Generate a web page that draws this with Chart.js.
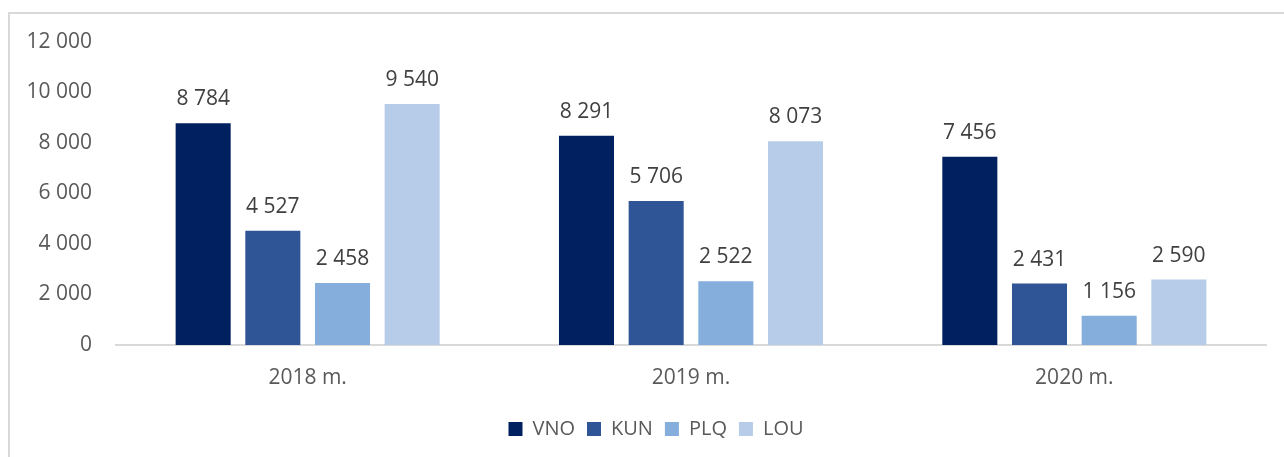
<!DOCTYPE html>
<html>
<head>
<meta charset="utf-8">
<script src="https://cdn.jsdelivr.net/npm/chart.js@4"></script>
<style>
	html, body { margin: 0; padding: 0; background: #fff; overflow: hidden; }
	#frame { position: absolute; left: 8px; top: 12px; width: 1290px; height: 460px; border-left: 2px solid #d9d9d9; border-top: 2px solid #d9d9d9; }
	#wrap { position: absolute; left: 0; top: 0; width: 1284px; height: 457px; }
</style>
</head>
<body>
<div id="frame"></div>
<div id="wrap"><canvas id="chart-airports"></canvas></div>
<script>
const YEARS = ["2018 m.", "2019 m.", "2020 m."];
const AIRPORTS = ["VNO", "KUN", "PLQ", "LOU"];
const VNO = [8784, 8291, 7456];
const KUN = [4527, 5706, 2431];
const PLQ = [2458, 2522, 1156];
const LOU = [9540, 8073, 2590];
const Y_TICKS = [0, 2000, 4000, 6000, 8000, 10000, 12000];

const COLORS = ["#002060", "#2F5597", "#85AEDC", "#B7CCE8"];
const FONT = "'Open Sans', sans-serif";

// 12000 -> "12 000"
const fmt = (v) => String(v).replace(/\B(?=(\d{3})+(?!\d))/g, " ");

// Value labels above the bars
const barLabels = {
	id: "barLabels",
	afterDatasetsDraw(chart) {
		const ctx = chart.ctx;
		ctx.save();
		ctx.font = "21px " + FONT;
		ctx.fillStyle = "#404040";
		ctx.textAlign = "center";
		ctx.textBaseline = "alphabetic";
		chart.data.datasets.forEach((ds, i) => {
			chart.getDatasetMeta(i).data.forEach((bar, j) => {
				ctx.fillText(fmt(ds.data[j]), bar.x, bar.y - 18);
			});
		});
		ctx.restore();
	},
};

// Legend in the original sits a bit right of the canvas centre
const legendShift = {
	id: "legendShift",
	afterLayout(chart) {
		if (chart.legend) {
			chart.legend.left += 23;
			chart.legend.right += 23;
		}
	},
};

const CHART_DATA = {
	labels: YEARS,
	datasets: [VNO, KUN, PLQ, LOU].map((values, i) => ({
		label: AIRPORTS[i],
		data: values,
		backgroundColor: COLORS[i],
		categoryPercentage: 0.727,
		barPercentage: 0.79,
	})),
};

const CHART_CONFIG = {
	type: "bar",
	data: CHART_DATA,
	plugins: [barLabels, legendShift],
	options: {
		responsive: true,
		maintainAspectRatio: false,
		animation: false,
		layout: {
			padding: { top: 42, left: 0, right: 18, bottom: 8 },
		},
		scales: {
			x: {
				grid: { display: false, drawTicks: false },
				border: { display: true, color: "#d9d9d9", width: 2 },
				ticks: { color: "#595959", font: { family: FONT, size: 21 }, padding: 20 },
				afterFit: (scale) => { scale.height = 62; },
			},
			y: {
				min: 0,
				max: 12000,
				grid: { display: false, drawTicks: false },
				border: { display: false },
				afterBuildTicks: (scale) => { scale.ticks = Y_TICKS.map((v) => ({ value: v })); },
				ticks: {
					color: "#595959",
					font: { family: FONT, size: 21 },
					padding: 24,
					callback: (v) => fmt(v),
				},
				afterFit: (scale) => { scale.width = 116; },
			},
		},
		plugins: {
			legend: {
				position: "bottom",
				labels: {
					boxWidth: 14,
					boxHeight: 14,
					padding: 12,
					color: "#595959",
					font: { family: FONT, size: 20 },
				},
			},
			tooltip: { enabled: false },
		},
	},
};

new Chart(document.getElementById("chart-airports"), CHART_CONFIG);
</script>
</body>
</html>
